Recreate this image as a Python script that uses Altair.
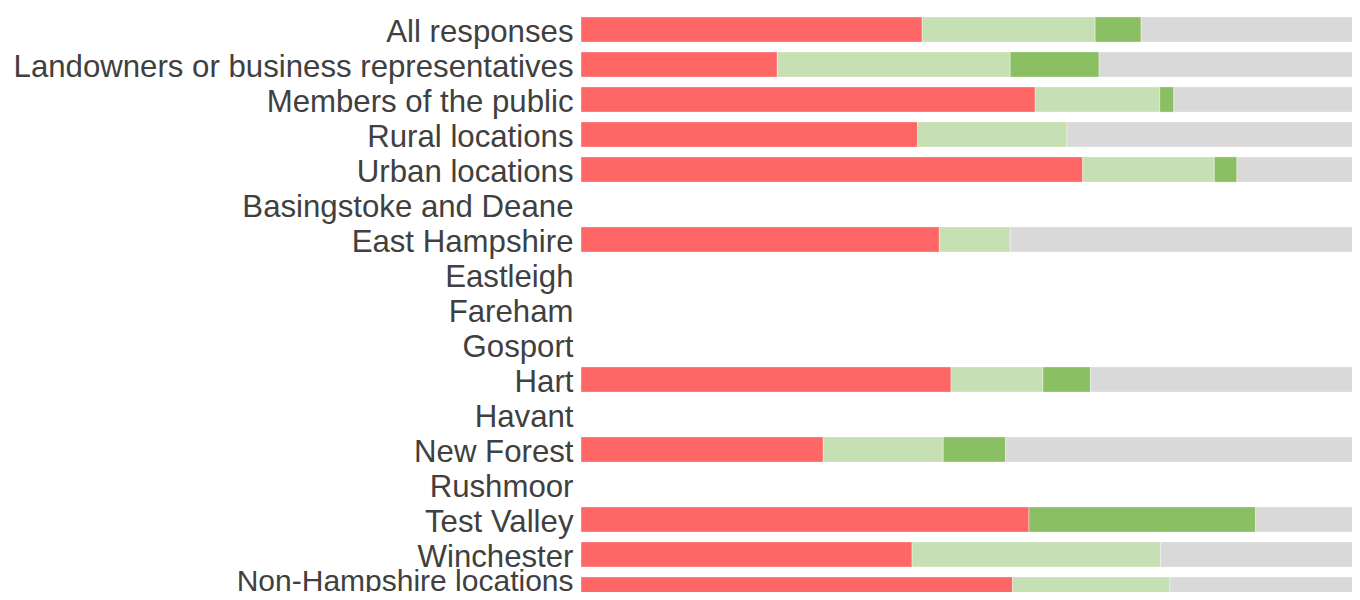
import altair as alt
import pandas as pd

categories = [
    "All responses",
    "Landowners or business representatives",
    "Members of the public",
    "Rural locations",
    "Urban locations",
    "Basingstoke and Deane",
    "East Hampshire",
    "Eastleigh",
    "Fareham",
    "Gosport",
    "Hart",
    "Havant",
    "New Forest",
    "Rushmoor",
    "Test Valley",
    "Winchester",
    "Non-Hampshire locations",
]

# percentages per response segment (None = no data for that row)
disagree = [43.8, 25.2, 58.3, 43.2, 64.4, None, 46.0, None, None, None, 47.5, None, 31.1, None, 57.5, 42.5, 55.4]
agree_some = [22.2, 29.9, 16.0, 19.2, 16.9, None, 9.1, None, None, None, 11.8, None, 15.4, None, 0.0, 31.9, 20.2]
agree = [5.9, 11.4, 1.8, 0.0, 2.9, None, 0.0, None, None, None, 6.1, None, 8.0, None, 29.1, 0.0, 0.0]
other = [28.1, 33.5, 23.9, 37.6, 15.8, None, 44.9, None, None, None, 34.6, None, 45.5, None, 13.4, 25.6, 24.4]

segments = ["Disagree", "Partly agree", "Agree", "Other"]
colors = ["#FF6666", "#C6E0B4", "#8ABF63", "#D9D9D9"]

rows = []
for i, c in enumerate(categories):
    for j, (name, vals) in enumerate(zip(segments, [disagree, agree_some, agree, other])):
        v = vals[i]
        if v is not None and v > 0:
            rows.append({"category": c, "segment": name, "value": v, "order": j})
df = pd.DataFrame(rows)

last_test = f"datum.value === '{categories[-1]}'"

chart = (
    alt.Chart(df)
    .mark_bar(stroke="#FFFFFF", strokeWidth=0.6, strokeOpacity=0.6)
    .encode(
        y=alt.Y(
            "category:N",
            sort=categories,
            scale=alt.Scale(domain=categories, range=[0, 595], paddingInner=0.28, paddingOuter=0.14),
            axis=alt.Axis(
                title=None,
                domain=False,
                ticks=False,
                labelFont="Liberation Sans",
                labelFontSize={"condition": {"test": last_test, "value": 30}, "value": 31.2},
                labelColor="#404040",
                labelPadding=8,
                labelLimit=0,
                labelOffset={"condition": {"test": last_test, "value": -7.5}, "value": 3},
            ),
        ),
        x=alt.X(
            "value:Q",
            stack="zero",
            scale=alt.Scale(domain=[0, 100], range=[0, 779], nice=False),
            axis=None,
        ),
        color=alt.Color(
            "segment:N",
            scale=alt.Scale(domain=segments, range=colors),
            legend=None,
        ),
        order=alt.Order("order:Q"),
    )
    .properties(
        width=771,
        height=580,
        autosize="none",
        padding={"left": 573, "top": 4, "right": 0, "bottom": 0},
    )
    .configure_view(stroke=None)
)

chart.save("out.html", embed_options={"renderer": "svg", "actions": False})
